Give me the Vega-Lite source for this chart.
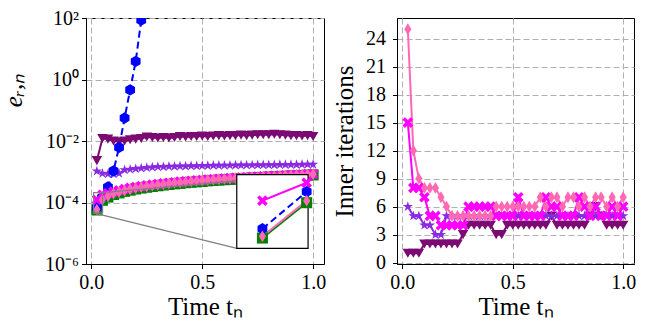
{
 "$schema": "https://vega.github.io/schema/vega-lite/v6.json",
 "padding": {"left": 0, "top": 7, "right": 0, "bottom": 0},
 "spacing": 5,
 "config": {
  "font": "Liberation Serif",
  "view": {"stroke": "black", "strokeWidth": 1},
  "axis": {"labelFont": "Liberation Serif", "labelFontSize": 20, "labelColor": "black", "titleFont": "Liberation Serif", "titleFontSize": 25, "titleFontWeight": "normal", "titleColor": "black", "domainColor": "black", "tickColor": "black", "tickSize": 4.5, "gridColor": "#b0b0b0", "gridDash": [6, 3], "gridWidth": 1, "grid": true}
 },
 "datasets": {
  "err": [
   {"s":"tri","t":0.025,"v":0.0023},{"s":"tri","t":0.05,"v":0.012},{"s":"tri","t":0.075,"v":0.0115},{"s":"tri","t":0.1,"v":0.010},{"s":"tri","t":0.125,"v":0.0095},{"s":"tri","t":0.15,"v":0.010},{"s":"tri","t":0.175,"v":0.011},{"s":"tri","t":0.2,"v":0.0115},{"s":"tri","t":0.225,"v":0.012},{"s":"tri","t":0.25,"v":0.0135},{"s":"tri","t":0.275,"v":0.013},{"s":"tri","t":0.3,"v":0.0125},{"s":"tri","t":0.325,"v":0.013},{"s":"tri","t":0.35,"v":0.0125},{"s":"tri","t":0.375,"v":0.013},{"s":"tri","t":0.4,"v":0.014},{"s":"tri","t":0.425,"v":0.0135},{"s":"tri","t":0.45,"v":0.014},{"s":"tri","t":0.475,"v":0.014},{"s":"tri","t":0.5,"v":0.0145},{"s":"tri","t":0.525,"v":0.014},{"s":"tri","t":0.55,"v":0.0145},{"s":"tri","t":0.575,"v":0.015},{"s":"tri","t":0.6,"v":0.0145},{"s":"tri","t":0.625,"v":0.015},{"s":"tri","t":0.65,"v":0.015},{"s":"tri","t":0.675,"v":0.0155},{"s":"tri","t":0.7,"v":0.015},{"s":"tri","t":0.725,"v":0.0155},{"s":"tri","t":0.75,"v":0.016},{"s":"tri","t":0.775,"v":0.016},{"s":"tri","t":0.8,"v":0.016},{"s":"tri","t":0.825,"v":0.0165},{"s":"tri","t":0.85,"v":0.016},{"s":"tri","t":0.875,"v":0.0155},{"s":"tri","t":0.9,"v":0.015},{"s":"tri","t":0.925,"v":0.015},{"s":"tri","t":0.95,"v":0.0145},{"s":"tri","t":0.975,"v":0.015},{"s":"tri","t":1.0,"v":0.014},
   {"s":"star","t":0.025,"v":0.00105},{"s":"star","t":0.05,"v":0.00088},{"s":"star","t":0.075,"v":0.00085},{"s":"star","t":0.1,"v":0.00085},{"s":"star","t":0.125,"v":0.00088},{"s":"star","t":0.15,"v":0.00115},{"s":"star","t":0.175,"v":0.0012},{"s":"star","t":0.2,"v":0.00125},{"s":"star","t":0.225,"v":0.0013},{"s":"star","t":0.25,"v":0.00135},{"s":"star","t":0.275,"v":0.0014},{"s":"star","t":0.3,"v":0.00145},{"s":"star","t":0.325,"v":0.00145},{"s":"star","t":0.35,"v":0.0015},{"s":"star","t":0.375,"v":0.0015},{"s":"star","t":0.4,"v":0.00152},{"s":"star","t":0.425,"v":0.00153},{"s":"star","t":0.45,"v":0.00155},{"s":"star","t":0.475,"v":0.00155},{"s":"star","t":0.5,"v":0.00157},{"s":"star","t":0.525,"v":0.00158},{"s":"star","t":0.55,"v":0.0016},{"s":"star","t":0.575,"v":0.0016},{"s":"star","t":0.6,"v":0.00162},{"s":"star","t":0.625,"v":0.00162},{"s":"star","t":0.65,"v":0.00163},{"s":"star","t":0.675,"v":0.00164},{"s":"star","t":0.7,"v":0.00165},{"s":"star","t":0.725,"v":0.00165},{"s":"star","t":0.75,"v":0.00166},{"s":"star","t":0.775,"v":0.00167},{"s":"star","t":0.8,"v":0.00168},{"s":"star","t":0.825,"v":0.00168},{"s":"star","t":0.85,"v":0.00169},{"s":"star","t":0.875,"v":0.0017},{"s":"star","t":0.9,"v":0.0017},{"s":"star","t":0.925,"v":0.00171},{"s":"star","t":0.95,"v":0.00172},{"s":"star","t":0.975,"v":0.00172},{"s":"star","t":1.0,"v":0.00173},
   {"s":"green","t":0.025,"v":5.7e-5},{"s":"green","t":0.05,"v":1.18e-4},{"s":"green","t":0.075,"v":1.5e-4},{"s":"green","t":0.1,"v":1.82e-4},{"s":"green","t":0.125,"v":2.05e-4},{"s":"green","t":0.15,"v":2.3e-4},{"s":"green","t":0.175,"v":2.52e-4},{"s":"green","t":0.2,"v":2.75e-4},{"s":"green","t":0.225,"v":2.95e-4},{"s":"green","t":0.25,"v":3.13e-4},{"s":"green","t":0.275,"v":3.32e-4},{"s":"green","t":0.3,"v":3.5e-4},{"s":"green","t":0.325,"v":3.7e-4},{"s":"green","t":0.35,"v":3.88e-4},{"s":"green","t":0.375,"v":4.05e-4},{"s":"green","t":0.4,"v":4.2e-4},{"s":"green","t":0.425,"v":4.4e-4},{"s":"green","t":0.45,"v":4.55e-4},{"s":"green","t":0.475,"v":4.7e-4},{"s":"green","t":0.5,"v":4.85e-4},{"s":"green","t":0.525,"v":5.05e-4},{"s":"green","t":0.55,"v":5.2e-4},{"s":"green","t":0.575,"v":5.35e-4},{"s":"green","t":0.6,"v":5.5e-4},{"s":"green","t":0.625,"v":5.65e-4},{"s":"green","t":0.65,"v":5.8e-4},{"s":"green","t":0.675,"v":5.95e-4},{"s":"green","t":0.7,"v":6.1e-4},{"s":"green","t":0.725,"v":6.25e-4},{"s":"green","t":0.75,"v":6.4e-4},{"s":"green","t":0.775,"v":6.55e-4},{"s":"green","t":0.8,"v":6.7e-4},{"s":"green","t":0.825,"v":6.85e-4},{"s":"green","t":0.85,"v":7.0e-4},{"s":"green","t":0.875,"v":7.15e-4},{"s":"green","t":0.9,"v":7.3e-4},{"s":"green","t":0.925,"v":7.45e-4},{"s":"green","t":0.95,"v":7.6e-4},{"s":"green","t":0.975,"v":7.75e-4},{"s":"green","t":1.0,"v":7.9e-4},
   {"s":"blue","t":0.025,"v":6.9e-5},{"s":"blue","t":0.05,"v":1.48e-4},{"s":"blue","t":0.075,"v":3.2e-4},{"s":"blue","t":0.1,"v":1.07e-3},{"s":"blue","t":0.125,"v":6.2e-3},{"s":"blue","t":0.15,"v":0.056},{"s":"blue","t":0.175,"v":0.46},{"s":"blue","t":0.2,"v":3.9},{"s":"blue","t":0.225,"v":85},
   {"s":"mag","t":0.025,"v":1.23e-4},{"s":"mag","t":0.05,"v":1.78e-4},{"s":"mag","t":0.075,"v":2.0e-4},{"s":"mag","t":0.1,"v":2.25e-4},{"s":"mag","t":0.125,"v":2.5e-4},{"s":"mag","t":0.15,"v":2.75e-4},{"s":"mag","t":0.175,"v":3.0e-4},{"s":"mag","t":0.2,"v":3.2e-4},{"s":"mag","t":0.225,"v":3.4e-4},{"s":"mag","t":0.25,"v":3.6e-4},{"s":"mag","t":0.275,"v":3.8e-4},{"s":"mag","t":0.3,"v":4.0e-4},{"s":"mag","t":0.325,"v":4.2e-4},{"s":"mag","t":0.35,"v":4.4e-4},{"s":"mag","t":0.375,"v":4.55e-4},{"s":"mag","t":0.4,"v":4.75e-4},{"s":"mag","t":0.425,"v":4.9e-4},{"s":"mag","t":0.45,"v":5.1e-4},{"s":"mag","t":0.475,"v":5.25e-4},{"s":"mag","t":0.5,"v":5.4e-4},{"s":"mag","t":0.525,"v":5.6e-4},{"s":"mag","t":0.55,"v":5.75e-4},{"s":"mag","t":0.575,"v":5.9e-4},{"s":"mag","t":0.6,"v":6.05e-4},{"s":"mag","t":0.625,"v":6.2e-4},{"s":"mag","t":0.65,"v":6.35e-4},{"s":"mag","t":0.675,"v":6.5e-4},{"s":"mag","t":0.7,"v":6.65e-4},{"s":"mag","t":0.725,"v":6.8e-4},{"s":"mag","t":0.75,"v":6.95e-4},{"s":"mag","t":0.775,"v":7.1e-4},{"s":"mag","t":0.8,"v":7.25e-4},{"s":"mag","t":0.825,"v":7.4e-4},{"s":"mag","t":0.85,"v":7.55e-4},{"s":"mag","t":0.875,"v":7.7e-4},{"s":"mag","t":0.9,"v":7.85e-4},{"s":"mag","t":0.925,"v":8.0e-4},{"s":"mag","t":0.95,"v":8.15e-4},{"s":"mag","t":0.975,"v":8.3e-4},{"s":"mag","t":1.0,"v":8.5e-4},
   {"s":"pink","t":0.025,"v":5.9e-5},{"s":"pink","t":0.05,"v":1.23e-4},{"s":"pink","t":0.075,"v":1.6e-4},{"s":"pink","t":0.1,"v":1.95e-4},{"s":"pink","t":0.125,"v":2.2e-4},{"s":"pink","t":0.15,"v":2.45e-4},{"s":"pink","t":0.175,"v":2.7e-4},{"s":"pink","t":0.2,"v":2.95e-4},{"s":"pink","t":0.225,"v":3.15e-4},{"s":"pink","t":0.25,"v":3.35e-4},{"s":"pink","t":0.275,"v":3.55e-4},{"s":"pink","t":0.3,"v":3.75e-4},{"s":"pink","t":0.325,"v":3.95e-4},{"s":"pink","t":0.35,"v":4.15e-4},{"s":"pink","t":0.375,"v":4.35e-4},{"s":"pink","t":0.4,"v":4.5e-4},{"s":"pink","t":0.425,"v":4.7e-4},{"s":"pink","t":0.45,"v":4.85e-4},{"s":"pink","t":0.475,"v":5.05e-4},{"s":"pink","t":0.5,"v":5.2e-4},{"s":"pink","t":0.525,"v":5.4e-4},{"s":"pink","t":0.55,"v":5.55e-4},{"s":"pink","t":0.575,"v":5.7e-4},{"s":"pink","t":0.6,"v":5.9e-4},{"s":"pink","t":0.625,"v":6.05e-4},{"s":"pink","t":0.65,"v":6.2e-4},{"s":"pink","t":0.675,"v":6.35e-4},{"s":"pink","t":0.7,"v":6.5e-4},{"s":"pink","t":0.725,"v":6.65e-4},{"s":"pink","t":0.75,"v":6.8e-4},{"s":"pink","t":0.775,"v":6.95e-4},{"s":"pink","t":0.8,"v":7.1e-4},{"s":"pink","t":0.825,"v":7.25e-4},{"s":"pink","t":0.85,"v":7.4e-4},{"s":"pink","t":0.875,"v":7.55e-4},{"s":"pink","t":0.9,"v":7.7e-4},{"s":"pink","t":0.925,"v":7.85e-4},{"s":"pink","t":0.95,"v":8.0e-4},{"s":"pink","t":0.975,"v":8.15e-4},{"s":"pink","t":1.0,"v":8.3e-4}
  ],
  "it": [
   {"s":"tri","t":0.025,"v":1},{"s":"tri","t":0.05,"v":1},{"s":"tri","t":0.075,"v":1},{"s":"tri","t":0.1,"v":2},{"s":"tri","t":0.125,"v":2},{"s":"tri","t":0.15,"v":2},{"s":"tri","t":0.175,"v":2},{"s":"tri","t":0.2,"v":2},{"s":"tri","t":0.225,"v":2},{"s":"tri","t":0.25,"v":2},{"s":"tri","t":0.275,"v":3},{"s":"tri","t":0.3,"v":4},{"s":"tri","t":0.325,"v":4},{"s":"tri","t":0.35,"v":4},{"s":"tri","t":0.375,"v":4},{"s":"tri","t":0.4,"v":4},{"s":"tri","t":0.425,"v":3},{"s":"tri","t":0.45,"v":3},{"s":"tri","t":0.475,"v":4},{"s":"tri","t":0.5,"v":4},{"s":"tri","t":0.525,"v":4},{"s":"tri","t":0.55,"v":4},{"s":"tri","t":0.575,"v":4},{"s":"tri","t":0.6,"v":4},{"s":"tri","t":0.625,"v":4},{"s":"tri","t":0.65,"v":4},{"s":"tri","t":0.675,"v":5},{"s":"tri","t":0.7,"v":4},{"s":"tri","t":0.725,"v":4},{"s":"tri","t":0.75,"v":4},{"s":"tri","t":0.775,"v":4},{"s":"tri","t":0.8,"v":4},{"s":"tri","t":0.825,"v":4},{"s":"tri","t":0.85,"v":5},{"s":"tri","t":0.875,"v":6},{"s":"tri","t":0.9,"v":5},{"s":"tri","t":0.925,"v":4},{"s":"tri","t":0.95,"v":4},{"s":"tri","t":0.975,"v":4},{"s":"tri","t":1.0,"v":4},
   {"s":"star","t":0.025,"v":6},{"s":"star","t":0.05,"v":5},{"s":"star","t":0.075,"v":5},{"s":"star","t":0.1,"v":4},{"s":"star","t":0.125,"v":4},{"s":"star","t":0.15,"v":3},{"s":"star","t":0.175,"v":3},{"s":"star","t":0.2,"v":5},{"s":"star","t":0.225,"v":5},{"s":"star","t":0.25,"v":5},{"s":"star","t":0.275,"v":5},{"s":"star","t":0.3,"v":5},{"s":"star","t":0.325,"v":5},{"s":"star","t":0.35,"v":5},{"s":"star","t":0.375,"v":5},{"s":"star","t":0.4,"v":5},{"s":"star","t":0.425,"v":5},{"s":"star","t":0.45,"v":5},{"s":"star","t":0.475,"v":5},{"s":"star","t":0.5,"v":5},{"s":"star","t":0.525,"v":5},{"s":"star","t":0.55,"v":5},{"s":"star","t":0.575,"v":5},{"s":"star","t":0.6,"v":5},{"s":"star","t":0.625,"v":5},{"s":"star","t":0.65,"v":5},{"s":"star","t":0.675,"v":5},{"s":"star","t":0.7,"v":5},{"s":"star","t":0.725,"v":5},{"s":"star","t":0.75,"v":5},{"s":"star","t":0.775,"v":5},{"s":"star","t":0.8,"v":5},{"s":"star","t":0.825,"v":5},{"s":"star","t":0.85,"v":5},{"s":"star","t":0.875,"v":5},{"s":"star","t":0.9,"v":5},{"s":"star","t":0.925,"v":5},{"s":"star","t":0.95,"v":5},{"s":"star","t":0.975,"v":5},{"s":"star","t":1.0,"v":5},
   {"s":"mag","t":0.025,"v":15},{"s":"mag","t":0.05,"v":8},{"s":"mag","t":0.075,"v":8},{"s":"mag","t":0.1,"v":7},{"s":"mag","t":0.125,"v":5},{"s":"mag","t":0.15,"v":5},{"s":"mag","t":0.175,"v":4},{"s":"mag","t":0.2,"v":4},{"s":"mag","t":0.225,"v":4},{"s":"mag","t":0.25,"v":4},{"s":"mag","t":0.275,"v":4},{"s":"mag","t":0.3,"v":6},{"s":"mag","t":0.325,"v":6},{"s":"mag","t":0.35,"v":6},{"s":"mag","t":0.375,"v":6},{"s":"mag","t":0.4,"v":6},{"s":"mag","t":0.425,"v":5},{"s":"mag","t":0.45,"v":5},{"s":"mag","t":0.475,"v":5},{"s":"mag","t":0.5,"v":5},{"s":"mag","t":0.525,"v":7},{"s":"mag","t":0.55,"v":5},{"s":"mag","t":0.575,"v":5},{"s":"mag","t":0.6,"v":5},{"s":"mag","t":0.625,"v":5},{"s":"mag","t":0.65,"v":7},{"s":"mag","t":0.675,"v":6},{"s":"mag","t":0.7,"v":6},{"s":"mag","t":0.725,"v":5},{"s":"mag","t":0.75,"v":5},{"s":"mag","t":0.775,"v":5},{"s":"mag","t":0.8,"v":7},{"s":"mag","t":0.825,"v":6},{"s":"mag","t":0.85,"v":5},{"s":"mag","t":0.875,"v":6},{"s":"mag","t":0.9,"v":5},{"s":"mag","t":0.925,"v":5},{"s":"mag","t":0.95,"v":6},{"s":"mag","t":0.975,"v":5},{"s":"mag","t":1.0,"v":6},
   {"s":"pink","t":0.025,"v":25},{"s":"pink","t":0.05,"v":12},{"s":"pink","t":0.075,"v":9},{"s":"pink","t":0.1,"v":8},{"s":"pink","t":0.125,"v":8},{"s":"pink","t":0.15,"v":8},{"s":"pink","t":0.175,"v":7},{"s":"pink","t":0.2,"v":6},{"s":"pink","t":0.225,"v":5},{"s":"pink","t":0.25,"v":5},{"s":"pink","t":0.275,"v":5},{"s":"pink","t":0.3,"v":5},{"s":"pink","t":0.325,"v":5},{"s":"pink","t":0.35,"v":5},{"s":"pink","t":0.375,"v":5},{"s":"pink","t":0.4,"v":5},{"s":"pink","t":0.425,"v":6},{"s":"pink","t":0.45,"v":6},{"s":"pink","t":0.475,"v":6},{"s":"pink","t":0.5,"v":6},{"s":"pink","t":0.525,"v":6},{"s":"pink","t":0.55,"v":6},{"s":"pink","t":0.575,"v":6},{"s":"pink","t":0.6,"v":6},{"s":"pink","t":0.625,"v":7},{"s":"pink","t":0.65,"v":6},{"s":"pink","t":0.675,"v":7},{"s":"pink","t":0.7,"v":7},{"s":"pink","t":0.725,"v":6},{"s":"pink","t":0.75,"v":7},{"s":"pink","t":0.775,"v":7},{"s":"pink","t":0.8,"v":6},{"s":"pink","t":0.825,"v":7},{"s":"pink","t":0.85,"v":6},{"s":"pink","t":0.875,"v":7},{"s":"pink","t":0.9,"v":7},{"s":"pink","t":0.925,"v":6},{"s":"pink","t":0.95,"v":7},{"s":"pink","t":0.975,"v":6},{"s":"pink","t":1.0,"v":7}
  ],
  "inset": [
   {"s":"green","t":0.025,"v":5.7e-5},{"s":"green","t":0.05,"v":1.18e-4},
   {"s":"blue","t":0.025,"v":6.9e-5},{"s":"blue","t":0.05,"v":1.48e-4},
   {"s":"mag","t":0.025,"v":1.23e-4},{"s":"mag","t":0.05,"v":1.78e-4},
   {"s":"pink","t":0.025,"v":5.9e-5},{"s":"pink","t":0.05,"v":1.23e-4}
  ],
  "guide": [
   {"t":0.0508,"v":2.1e-4,"t2":0.977,"v2":8.0e-4},
   {"t":0.0105,"v":4.6e-5,"t2":0.656,"v2":3.2e-6}
  ],
  "box": [
   {"t":0.0105,"t2":0.0508,"v":4.6e-5,"v2":2.1e-4}
  ]
 },
 "hconcat": [
  {
   "width": 238,
   "height": 246,
   "layer": [
    {
     "encoding": {
      "x": {"field": "t", "type": "quantitative", "scale": {"domain": [-0.024, 1.049], "nice": false, "zero": false}, "axis": {"values": [0, 0.5, 1], "format": ".1f", "title": "Time tₙ", "labelPadding": 4, "titlePadding": 2}},
      "y": {"field": "v", "type": "quantitative", "scale": {"type": "log", "domain": [1e-6, 100], "nice": false}, "axis": {"values": [1e-6, 1e-4, 0.01, 1, 100], "labelExpr": "datum.value > 5 ? '10²' : datum.value > 0.5 ? '10⁰' : datum.value > 0.005 ? '10⁻²' : datum.value > 0.00005 ? '10⁻⁴' : '10⁻⁶'", "labelPadding": 3, "title": "eᵣ,ₙ", "titleFontStyle": "italic", "titleX": -60, "titleY": 72}}
     },
     "layer": [
      {"data": {"name": "err"}, "mark": {"type": "line", "strokeWidth": 2, "clip": true},
       "encoding": {
        "color": {"field": "s", "type": "nominal", "scale": {"domain": ["tri","star","green","blue","mag","pink"], "range": ["#7b0a72","#8a2be2","#008000","#0000ff","#ff00ff","#ff69b4"]}, "legend": null},
        "strokeDash": {"field": "s", "type": "nominal", "scale": {"domain": ["tri","star","green","blue","mag","pink"], "range": [[1,0],[1,0],[1,0],[7,4],[1,0],[1,0]]}, "legend": null}
       }},
      {"data": {"name": "err"}, "mark": {"type": "point", "filled": true, "opacity": 1, "clip": true},
       "encoding": {
        "color": {"field": "s", "type": "nominal", "scale": {"domain": ["tri","star","green","blue","mag","pink"], "range": ["#7b0a72","#8a2be2","#008000","#0000ff","#ff00ff","#ff69b4"]}, "legend": null},
        "shape": {"field": "s", "type": "nominal", "scale": {"domain": ["tri","star","green","blue","mag","pink"], "range": ["triangle-down","M0,-1L0.2245,-0.309L0.951,-0.309L0.363,0.118L0.588,0.809L0,0.382L-0.588,0.809L-0.363,0.118L-0.951,-0.309L-0.2245,-0.309Z","square","M0,-1L0.866,-0.5L0.866,0.5L0,1L-0.866,0.5L-0.866,-0.5Z","M0.495,-0.919L0.919,-0.495L0.424,0L0.919,0.495L0.495,0.919L0,0.424L-0.495,0.919L-0.919,0.495L-0.424,0L-0.919,-0.495L-0.495,-0.919L0,-0.424Z","M0,-1L0.6,0L0,1L-0.6,0Z"]}, "legend": null},
        "size": {"field": "s", "type": "nominal", "scale": {"domain": ["tri","star","green","blue","mag","pink"], "range": [110,140,55,90,105,110]}, "legend": null}
       }},
      {"data": {"name": "box"}, "mark": {"type": "rect", "fillOpacity": 0, "stroke": "#808080", "strokeWidth": 1.2},
       "encoding": {"x2": {"field": "t2"}, "y2": {"field": "v2"}}},
      {"data": {"name": "guide"}, "mark": {"type": "rule", "color": "#808080", "strokeWidth": 1.3},
       "encoding": {"x2": {"field": "t2"}, "y2": {"field": "v2"}}}
     ]
    },
    {
     "encoding": {
      "x": {"field": "t", "type": "quantitative", "scale": {"domain": [-0.0747, 0.0598], "nice": false, "zero": false}, "axis": null},
      "y": {"field": "v", "type": "quantitative", "scale": {"type": "log", "domain": [3.34e-5, 5.29e-3], "nice": false}, "axis": null}
     },
     "layer": [
      {"data": {"name": "box"}, "mark": {"type": "rect", "fill": "white", "stroke": "black", "strokeWidth": 1.2},
       "encoding": {"x2": {"field": "t2"}, "y2": {"field": "v2"}}},
      {"data": {"name": "inset"}, "mark": {"type": "line", "strokeWidth": 2},
       "encoding": {
        "color": {"field": "s", "type": "nominal", "scale": {"domain": ["tri","star","green","blue","mag","pink"], "range": ["#7b0a72","#8a2be2","#008000","#0000ff","#ff00ff","#ff69b4"]}, "legend": null},
        "strokeDash": {"field": "s", "type": "nominal", "scale": {"domain": ["tri","star","green","blue","mag","pink"], "range": [[1,0],[1,0],[1,0],[7,4],[1,0],[1,0]]}, "legend": null}
       }},
      {"data": {"name": "inset"}, "mark": {"type": "point", "filled": true, "opacity": 1},
       "encoding": {
        "color": {"field": "s", "type": "nominal", "scale": {"domain": ["tri","star","green","blue","mag","pink"], "range": ["#7b0a72","#8a2be2","#008000","#0000ff","#ff00ff","#ff69b4"]}, "legend": null},
        "shape": {"field": "s", "type": "nominal", "scale": {"domain": ["tri","star","green","blue","mag","pink"], "range": ["triangle-down","M0,-1L0.2245,-0.309L0.951,-0.309L0.363,0.118L0.588,0.809L0,0.382L-0.588,0.809L-0.363,0.118L-0.951,-0.309L-0.2245,-0.309Z","square","M0,-1L0.866,-0.5L0.866,0.5L0,1L-0.866,0.5L-0.866,-0.5Z","M0.495,-0.919L0.919,-0.495L0.424,0L0.919,0.495L0.495,0.919L0,0.424L-0.495,0.919L-0.919,0.495L-0.424,0L-0.919,-0.495L-0.495,-0.919L0,-0.424Z","M0,-1L0.6,0L0,1L-0.6,0Z"]}, "legend": null},
        "size": {"field": "s", "type": "nominal", "scale": {"domain": ["tri","star","green","blue","mag","pink"], "range": [110,140,55,90,105,110]}, "legend": null}
       }}
     ]
    }
   ],
   "resolve": {"scale": {"x": "independent", "y": "independent"}}
  },
  {
   "width": 237,
   "height": 246,
   "data": {"name": "it"},
   "encoding": {
    "x": {"field": "t", "type": "quantitative", "scale": {"domain": [-0.024, 1.049], "nice": false, "zero": false}, "axis": {"values": [0, 0.5, 1], "format": ".1f", "title": "Time tₙ", "labelPadding": 4, "titlePadding": 2}},
    "y": {"field": "v", "type": "quantitative", "scale": {"domain": [-0.15, 26.2], "nice": false, "zero": false}, "axis": {"values": [0,3,6,9,12,15,18,21,24], "labelPadding": 7, "title": "Inner iterations", "titlePadding": 8}}
   },
   "layer": [
    {"mark": {"type": "line", "strokeWidth": 2},
     "encoding": {
      "color": {"field": "s", "type": "nominal", "scale": {"domain": ["tri","star","green","blue","mag","pink"], "range": ["#7b0a72","#8a2be2","#008000","#0000ff","#ff00ff","#ff69b4"]}, "legend": null}
     }},
    {"mark": {"type": "point", "filled": true, "opacity": 1},
     "encoding": {
      "color": {"field": "s", "type": "nominal", "scale": {"domain": ["tri","star","green","blue","mag","pink"], "range": ["#7b0a72","#8a2be2","#008000","#0000ff","#ff00ff","#ff69b4"]}, "legend": null},
      "shape": {"field": "s", "type": "nominal", "scale": {"domain": ["tri","star","green","blue","mag","pink"], "range": ["triangle-down","M0,-1L0.2245,-0.309L0.951,-0.309L0.363,0.118L0.588,0.809L0,0.382L-0.588,0.809L-0.363,0.118L-0.951,-0.309L-0.2245,-0.309Z","square","M0,-1L0.866,-0.5L0.866,0.5L0,1L-0.866,0.5L-0.866,-0.5Z","M0.495,-0.919L0.919,-0.495L0.424,0L0.919,0.495L0.495,0.919L0,0.424L-0.495,0.919L-0.919,0.495L-0.424,0L-0.919,-0.495L-0.495,-0.919L0,-0.424Z","M0,-1L0.6,0L0,1L-0.6,0Z"]}, "legend": null},
      "size": {"field": "s", "type": "nominal", "scale": {"domain": ["tri","star","green","blue","mag","pink"], "range": [110,140,55,90,105,110]}, "legend": null}
     }}
   ]
  }
 ]
}
